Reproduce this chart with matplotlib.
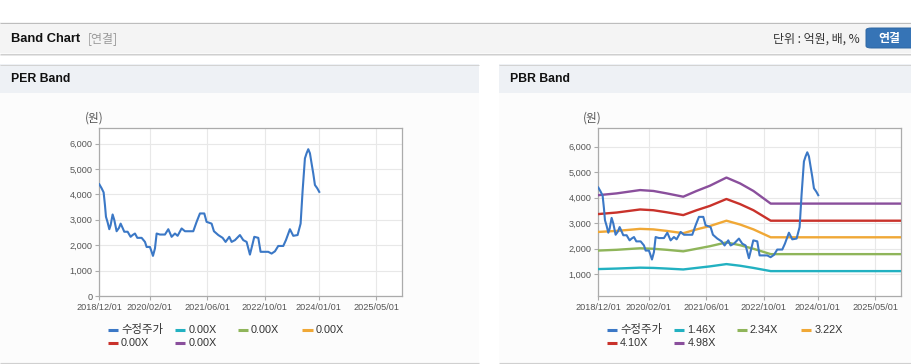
import matplotlib
matplotlib.use("Agg")
import matplotlib.pyplot as plt
from matplotlib.lines import Line2D
from matplotlib.patches import Rectangle, FancyBboxPatch
import numpy as np

plt.rcParams['font.family'] = ['Liberation Sans', 'Noto Sans CJK KR', 'DejaVu Sans']

# ---------------- data ----------------
# x positions are months since 2018/12/01
price_months = [0, 0.65, 1.2, 1.57, 1.85, 2.31, 2.78, 3.15, 3.7, 4.17, 4.81, 5.46, 5.93, 6.48,
                6.94, 7.87, 8.7, 9.26, 9.91, 10.56, 11.76, 12.69, 13.15, 14.07, 14.54, 14.91,
                15.46, 15.93, 16.85, 18.24, 19.17, 20.09, 21.02, 21.76, 22.87, 23.8, 26.11,
                27.04, 27.96, 29.17, 29.81, 31.2, 31.85, 33.06, 34.26, 35.09, 36.11, 36.76,
                37.69, 39.07, 40.0, 40.93, 41.85, 42.5, 43.06, 44.17, 44.81, 46.94, 47.87,
                48.8, 49.72, 51.11, 51.85, 52.96, 53.89, 55.09, 55.93, 56.48, 57.13, 57.59,
                58.06, 58.52, 58.98, 59.44, 59.91, 60.56, 61.11]
price_values = [4400, 4240, 4080, 3580, 3120, 2900, 2630, 2790, 3210, 2990, 2550, 2680, 2850, 2680,
                2530, 2530, 2330, 2400, 2460, 2290, 2290, 2130, 1930, 1930, 1740, 1580,
                1870, 2460, 2420, 2420, 2630, 2330, 2460, 2370, 2660, 2550, 2550,
                2920, 3250, 3250, 2920, 2850, 2550, 2400, 2290, 2130, 2330, 2130,
                2200, 2400, 2200, 2130, 1630, 2000, 2330, 2290, 1740, 1740, 1670,
                1760, 1970, 1970, 2200, 2630, 2370, 2400, 2850, 4130, 5420, 5620,
                5780, 5620, 5220, 4830, 4370, 4240, 4100]

band_months = [0, 5.1, 11.6, 15.3, 19.0, 23.6, 27.3, 31.0, 35.6, 39.4, 43.1, 47.9, 84.1]
pbr_band_146 = [1205, 1225, 1260, 1250, 1225, 1190, 1250, 1310, 1400, 1335, 1250, 1125, 1125]
pbr_band_234 = [1930, 1960, 2020, 2000, 1960, 1900, 2000, 2100, 2250, 2140, 2000, 1790, 1790]
pbr_band_322 = [2660, 2700, 2780, 2760, 2700, 2610, 2760, 2890, 3100, 2950, 2760, 2450, 2450]
pbr_band_410 = [3360, 3420, 3540, 3510, 3430, 3320, 3510, 3680, 3950, 3750, 3510, 3100, 3100]
pbr_band_498 = [4100, 4170, 4300, 4265, 4170, 4040, 4265, 4470, 4790, 4560, 4265, 3770, 3770]

price_label = "수정주가"
per_band_labels = ["0.00X", "0.00X", "0.00X", "0.00X", "0.00X"]
pbr_band_labels = ["1.46X", "2.34X", "3.22X", "4.10X", "4.98X"]

x_tick_labels = ["2018/12/01", "2020/02/01", "2021/06/01", "2022/10/01", "2024/01/01", "2025/05/01"]
per_y_ticks = [0, 1000, 2000, 3000, 4000, 5000, 6000]
pbr_y_ticks = [1000, 2000, 3000, 4000, 5000, 6000]

price_color = "#3b78c6"
band_colors = ["#22b1c1", "#8fb55a", "#f0a836", "#c9322b", "#8a4f9c"]

# ---------------- figure / page ----------------
W, H = 912, 364
fig = plt.figure(figsize=(W / 100, H / 100), dpi=100)
fig.patch.set_facecolor("white")

CJK = ["Noto Sans CJK KR", "DejaVu Sans"]


def fx(x):
    return x / W


def fy(y):
    return 1 - y / H


def rect(l, t, r, b, color, z=0):
    fig.add_artist(Rectangle((fx(l), fy(b)), (r - l) / W, (b - t) / H, transform=fig.transFigure,
                             facecolor=color, edgecolor="none", zorder=z))


def hline(x0, x1, y, color, lw=1.0, z=1):
    fig.add_artist(Line2D([fx(x0), fx(x1)], [fy(y), fy(y)], transform=fig.transFigure,
                          color=color, lw=lw * 0.72, zorder=z, solid_capstyle="butt"))


# top bar
rect(0, 22, W, 53, "#f4f4f4")
hline(0, W, 22.5, "#bdbdbd")
hline(0, W, 53.5, "#cfcfcf", 1.2)
hline(0, W, 54.5, "#e6e6e6", 1.0)
fig.text(fx(11), fy(39), "Band Chart", fontsize=9.3, fontweight="bold", color="#111111",
         va="center", ha="left")
fig.text(fx(88), fy(39), "[연결]", fontsize=8.6, color="#9a9a9a", va="center", ha="left",
         family=CJK)
fig.text(fx(860), fy(39), "단위 : 억원, 배, %", fontsize=8.6, color="#333333", va="center", ha="right",
         family=CJK)
fig.add_artist(FancyBboxPatch((fx(866), fy(48)), (50) / W, (20) / H, transform=fig.transFigure,
                              boxstyle="round,pad=0,rounding_size=0.006", facecolor="#3674b6",
                              edgecolor="#2e66a3", lw=0.7))
fig.text(fx(889.5), fy(38.5), "연결", fontsize=8.6, fontweight="bold", color="white", va="center",
         ha="center", family=CJK)

# panels
panels = [(0, 479.3), (499.3, W)]
for (l, r), title in zip(panels, ["PER Band", "PBR Band"]):
    rect(l, 64, r, 93, "#eef1f5")
    rect(l, 93, r, 362, "#fcfcfc")
    hline(l, r, 64.5, "#d3d3d3")
    hline(l, r, 362.5, "#d0d0d0", 1.3)
    fig.text(fx(l + 11), fy(79.5), title, fontsize=8.8, fontweight="bold", color="#111111",
             va="center", ha="left")


def month_of(label):
    y, m, _ = label.split("/")
    return (int(y) - 2018) * 12 + int(m) - 12


x_ticks = [month_of(s) for s in x_tick_labels]


def style_axes(ax, yticks, ylim):
    ax.set_facecolor("white")
    ax.set_xlim(0, 84.1)
    ax.set_ylim(*ylim)
    ax.set_xticks(x_ticks)
    ax.set_xticklabels(x_tick_labels)
    ax.set_yticks(yticks)
    ax.set_yticklabels([f"{v:,}" for v in yticks])
    ax.grid(True, color="#e8e8e8", lw=0.8)
    ax.set_axisbelow(True)
    for s in ax.spines.values():
        s.set_color("#ababab")
        s.set_linewidth(0.9)
    ax.tick_params(axis="both", colors="#ababab", labelcolor="#555555", labelsize=6.6,
                   length=3, width=0.8, pad=2)


# ---------------- PER ----------------
ax1 = fig.add_axes([fx(99.3), fy(296), (402 - 99.3) / W, (296 - 128) / H])
style_axes(ax1, per_y_ticks, (0, 6615))
ax1.plot(price_months, price_values, color=price_color, lw=1.5, zorder=5)
fig.text(fx(94), fy(118), "(원)", fontsize=8.4, color="#555555", ha="center", va="center",
         family=CJK)

# ---------------- PBR ----------------
ax2 = fig.add_axes([fx(598.3), fy(296), (901 - 598.3) / W, (296 - 128.3) / H])
style_axes(ax2, pbr_y_ticks, (150, 6720))
for vals, c in zip([pbr_band_146, pbr_band_234, pbr_band_322, pbr_band_410, pbr_band_498], band_colors):
    ax2.plot(band_months, vals, color=c, lw=1.7, zorder=3)
ax2.plot(price_months, price_values, color=price_color, lw=1.5, zorder=5)
fig.text(fx(592), fy(118), "(원)", fontsize=8.4, color="#555555", ha="center", va="center",
         family=CJK)

# ---------------- legends ----------------
col_x = [107.7, 175, 237.7, 302]
row_y = [330, 343]
for off, labels in [(0, per_band_labels), (499, pbr_band_labels)]:
    entries = [(price_label, price_color)] + list(zip(labels, band_colors))
    for i, (lab, c) in enumerate(entries):
        x = col_x[i % 4] + off
        y = row_y[i // 4]
        fig.add_artist(Line2D([fx(x), fx(x + 10.5)], [fy(y), fy(y)], transform=fig.transFigure,
                              color=c, lw=2.2, solid_capstyle="butt"))
        fs = 8.2 if lab == price_label else 7.8
        fig.text(fx(x + 13.3), fy(y), lab, fontsize=fs, color="#333333", va="center", ha="left")

fig.savefig("out.png", dpi=100, facecolor=fig.get_facecolor())
